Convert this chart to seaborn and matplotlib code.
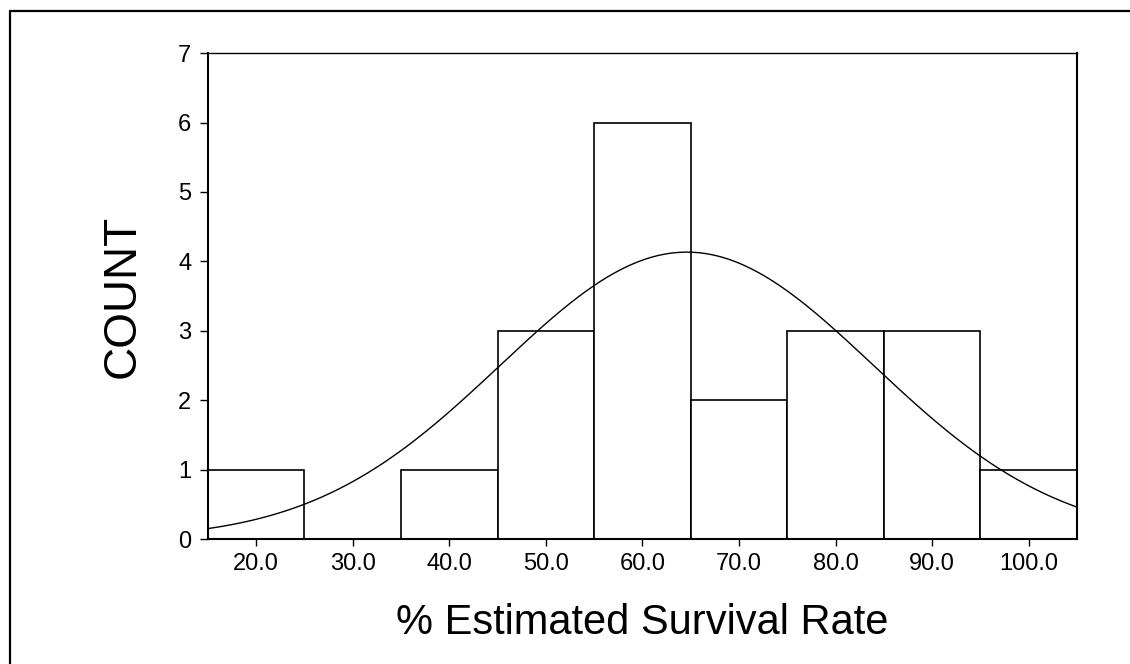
import numpy as np
import pandas as pd
import matplotlib
matplotlib.use("Agg")
import matplotlib.pyplot as plt
from matplotlib.lines import Line2D
import seaborn as sns

# Histogram of estimated survival rates (bin centers and counts)
bin_centers = [20, 30, 40, 50, 60, 70, 80, 90, 100]
counts = [1, 0, 1, 3, 6, 2, 3, 3, 1]
bin_width = 10

# Fitted normal curve parameters
fit_mean = 64.6
fit_sd = 19.3

x_ticks = [20, 30, 40, 50, 60, 70, 80, 90, 100]
x_tick_labels = ["20.0", "30.0", "40.0", "50.0", "60.0", "70.0", "80.0", "90.0", "100.0"]
y_ticks = [0, 1, 2, 3, 4, 5, 6, 7]

sns.set_theme(style="white")
plt.rcParams["font.family"] = ["Liberation Sans", "DejaVu Sans"]

fig = plt.figure(figsize=(11.3, 6.64), dpi=100)
ax = fig.add_axes([0.184, 0.188, 0.769, 0.732])

df = pd.DataFrame({"rate": bin_centers, "n": counts})
lo = bin_centers[0] - bin_width / 2
hi = bin_centers[-1] + bin_width / 2
sns.histplot(data=df, x="rate", weights="n", binwidth=bin_width,
             binrange=(lo, hi), ax=ax,
             color="white", edgecolor="black", linewidth=1.2, alpha=1.0)

# Normal curve scaled to counts per bin
total = sum(counts)
xs = np.linspace(lo, hi, 300)
ys = total * bin_width / (fit_sd * np.sqrt(2 * np.pi)) * np.exp(-0.5 * ((xs - fit_mean) / fit_sd) ** 2)
sns.lineplot(x=xs, y=ys, ax=ax, color="black", linewidth=1.0)

ax.set_xlim(lo, hi)
ax.set_ylim(0, 7)
ax.set_xticks(x_ticks)
ax.set_xticklabels(x_tick_labels)
ax.set_yticks(y_ticks)
ax.tick_params(axis="both", direction="out", length=6, width=1.0,
               color="black", labelsize=17, labelcolor="black", pad=6,
               bottom=True, left=True)
ax.tick_params(axis="x", length=5, pad=5)

for side, spine in ax.spines.items():
    spine.set_visible(True)
    spine.set_color("black")
    spine.set_linewidth(1.5 if side != "top" else 1.0)

ax.set_xlabel("% Estimated Survival Rate", fontsize=30, color="black", labelpad=20)
ax.set_ylabel("COUNT", fontsize=33, color="black", labelpad=24)

# Frame lines along the top and left edges of the figure
fig.add_artist(Line2D([10 / 1130, 10 / 1130], [0, 1 - 11 / 664],
                      transform=fig.transFigure, color="black", linewidth=1.6))
fig.add_artist(Line2D([10 / 1130, 1], [1 - 11 / 664, 1 - 11 / 664],
                      transform=fig.transFigure, color="black", linewidth=1.6))

fig.savefig("out.png", dpi=100, facecolor="white")
